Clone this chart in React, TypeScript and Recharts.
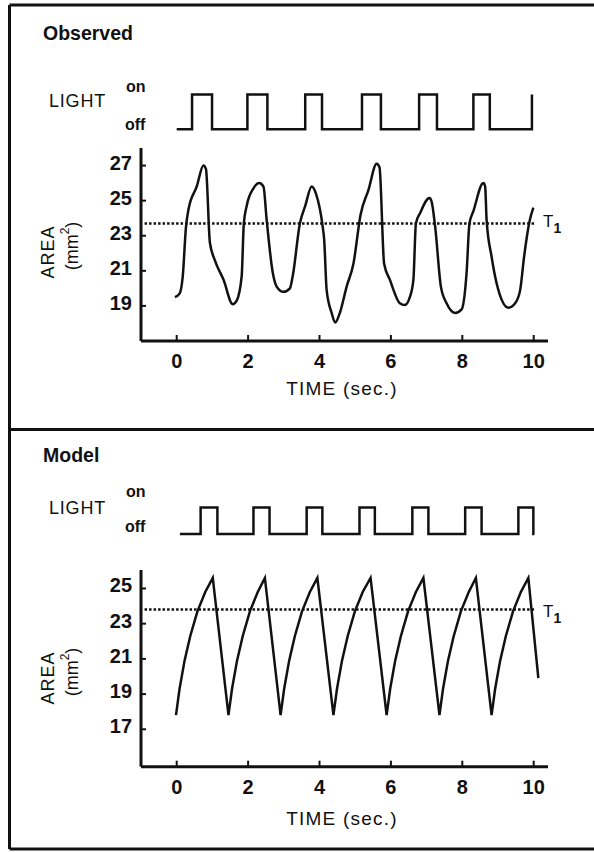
import { LineChart, Line, XAxis, YAxis, ReferenceLine } from "recharts";

const FONT = '"Liberation Sans", Arial, Helvetica, sans-serif';
const INK = "#111";

const TIME_TICKS = [0, 2, 4, 6, 8, 10];
const OBSERVED_TICKS = [19, 21, 23, 25, 27];
const MODEL_TICKS = [17, 19, 21, 23, 25];

const OBSERVED_T1 = 23.7;
const MODEL_T1 = 23.8;

// light switching: time (sec.) and state after the switch, 1 = on
const OBSERVED_LIGHT_TIME = [0, 0.43, 0.99, 1.98, 2.54, 3.6, 4.07, 5.19, 5.72, 6.79, 7.29, 8.31, 8.77, 9.95];
const OBSERVED_LIGHT_STATE = [0, 1, 0, 1, 0, 1, 0, 1, 0, 1, 0, 1, 0, 1];
const MODEL_LIGHT_TIME = [0.09, 0.67, 1.14, 2.15, 2.6, 3.64, 4.08, 5.12, 5.55, 6.6, 7.05, 8.08, 8.54, 9.57, 9.99, 10.02];
const MODEL_LIGHT_STATE = [0, 1, 0, 1, 0, 1, 0, 1, 0, 1, 0, 1, 0, 1, 0, 0];

// observed pupil area (mm2)
const OBSERVED_TIME = [
  -0.05, 0.08, 0.17, 0.26, 0.33, 0.56, 0.75, 0.82, 0.93, 1.07, 1.31, 1.57, 1.68, 1.82, 1.88, 1.96,
  2.15, 2.31, 2.43, 2.52, 2.69, 2.8, 2.99, 3.17, 3.25, 3.45, 3.6, 3.78, 3.9, 4.09, 4.13, 4.2,
  4.34, 4.44, 4.57, 4.76, 4.95, 5.15, 5.37, 5.6, 5.68, 5.81, 5.97, 6.25, 6.39, 6.53, 6.63, 6.7,
  6.82, 7.08, 7.14, 7.24, 7.4, 7.56, 7.8, 7.98, 8.12, 8.2, 8.31, 8.59, 8.64, 8.68, 8.82, 8.96,
  9.29, 9.48, 9.62, 9.73, 9.88, 9.99,
];
const OBSERVED_AREA = [
  19.5, 19.7, 20.7, 23.5, 24.5, 25.8, 27.0, 26.8, 22.6, 21.6, 20.5, 19.1, 19.3, 20.7, 23.7, 24.7,
  25.7, 26.0, 25.8, 23.9, 20.9, 20.1, 19.8, 20.0, 20.7, 23.7, 24.7, 25.8, 25.4, 23.5, 22.8, 19.9,
  18.6, 18.05, 18.6, 20.1, 21.4, 24.2, 25.6, 27.1, 26.9, 21.4, 20.5, 19.15, 19.05, 19.5, 20.5, 23.7,
  24.3, 25.15, 24.95, 23.5, 20.1, 19.15, 18.6, 18.8, 20.9, 23.7, 24.4, 26.0, 25.8, 23.9, 21.8, 20.3,
  18.9, 19.15, 19.9, 21.8, 23.8, 24.6,
];

// model pupil area (mm2)
const MODEL_TIME = [
  -0.02, 0.08, 0.22, 0.38, 0.58, 0.8, 1.01,
  1.45, 1.55, 1.69, 1.85, 2.05, 2.27, 2.47,
  2.91, 3.01, 3.15, 3.31, 3.51, 3.73, 3.94,
  4.39, 4.49, 4.63, 4.79, 4.99, 5.21, 5.43,
  5.88, 5.98, 6.12, 6.28, 6.48, 6.7, 6.91,
  7.36, 7.46, 7.6, 7.76, 7.96, 8.18, 8.38,
  8.82, 8.92, 9.06, 9.22, 9.42, 9.64, 9.85,
  10.13,
];
const MODEL_AREA = [
  17.8, 19.3, 20.9, 22.3, 23.7, 24.8, 25.6,
  17.8, 19.3, 20.9, 22.3, 23.7, 24.8, 25.6,
  17.8, 19.3, 20.9, 22.3, 23.7, 24.8, 25.6,
  17.8, 19.3, 20.9, 22.3, 23.7, 24.8, 25.6,
  17.8, 19.3, 20.9, 22.3, 23.7, 24.8, 25.6,
  17.8, 19.3, 20.9, 22.3, 23.7, 24.8, 25.6,
  17.8, 19.3, 20.9, 22.3, 23.7, 24.8, 25.6,
  19.9,
];

const zip = (t: number[], v: number[]) => t.map((time, i) => ({ t: time, v: v[i] }));

const TIME_DOMAIN: [number, number] = [-1, 10.4];
const PLOT_LEFT = 141;
const PLOT_RIGHT = 46;

function TimeTick(props: any) {
  const { x, y, payload } = props;
  return (
    <g>
      <line x1={x} x2={x} y1={y} y2={y - 6} stroke={INK} strokeWidth={2} />
      <text x={x} y={y + 27} textAnchor="middle" fontSize={20} fontWeight="bold" fill={INK} fontFamily={FONT}>
        {payload.value}
      </text>
    </g>
  );
}

function AreaTick(props: any) {
  const { x, y, payload } = props;
  return (
    <g>
      <line x1={x} x2={x + 5} y1={y} y2={y} stroke={INK} strokeWidth={2} />
      <text x={x - 9} y={y + 4} textAnchor="end" fontSize={20} fontWeight="bold" fill={INK} fontFamily={FONT}>
        {payload.value}
      </text>
    </g>
  );
}

interface LightProps {
  top: number;
  height: number;
  marginTop: number;
  marginBottom: number;
  data: { t: number; v: number }[];
}

function LightTrace({ top, height, marginTop, marginBottom, data }: LightProps) {
  return (
    <div style={{ position: "absolute", left: 0, top }}>
      <LineChart
        width={594}
        height={height}
        data={data}
        margin={{ top: marginTop, right: PLOT_RIGHT, bottom: marginBottom, left: PLOT_LEFT }}
      >
        <XAxis type="number" dataKey="t" domain={TIME_DOMAIN} hide allowDataOverflow />
        <YAxis type="number" domain={[0, 1]} hide />
        <Line type="stepAfter" dataKey="v" stroke={INK} strokeWidth={2.5} dot={false} isAnimationActive={false} />
      </LineChart>
    </div>
  );
}

interface AreaProps {
  top: number;
  marginTop: number;
  plotHeight: number;
  domain: [number, number];
  ticks: number[];
  t1: number;
  curve: "monotone" | "linear";
  data: { t: number; v: number }[];
}

function AreaTrace({ top, marginTop, plotHeight, domain, ticks, t1, curve, data }: AreaProps) {
  return (
    <div style={{ position: "absolute", left: 0, top }}>
      <LineChart
        width={594}
        height={marginTop + plotHeight + 40}
        data={data}
        margin={{ top: marginTop, right: PLOT_RIGHT, bottom: 0, left: PLOT_LEFT - 40 }}
      >
        <XAxis
          type="number"
          dataKey="t"
          domain={TIME_DOMAIN}
          ticks={TIME_TICKS}
          interval={0}
          height={40}
          tickSize={0}
          tickMargin={0}
          tickLine={false}
          tick={<TimeTick />}
          axisLine={{ stroke: INK, strokeWidth: 3 }}
          allowDataOverflow
        />
        <YAxis
          type="number"
          domain={domain}
          ticks={ticks}
          interval={0}
          width={40}
          tickSize={0}
          tickMargin={0}
          tickLine={false}
          tick={<AreaTick />}
          axisLine={{ stroke: INK, strokeWidth: 3 }}
          allowDataOverflow
        />
        <ReferenceLine
          segment={[{ x: -0.9, y: t1 }, { x: 10.05, y: t1 }]}
          stroke={INK}
          strokeWidth={2.5}
          strokeDasharray="2.5 2"
        />
        <Line type={curve} dataKey="v" stroke={INK} strokeWidth={2.5} dot={false} isAnimationActive={false} />
      </LineChart>
    </div>
  );
}

function PanelText({ title, titleY, lightY, onY, offY, areaY, mmY, t1Y, timeY }: any) {
  return (
    <g fontFamily={FONT} fill={INK}>
      <text x={43} y={titleY} fontSize={19.5} fontWeight="bold">{title}</text>
      <text x={49} y={lightY} fontSize={18} letterSpacing={0.8}>LIGHT</text>
      <text x={126} y={onY} fontSize={16} fontWeight="bold">on</text>
      <text x={125} y={offY} fontSize={16} fontWeight="bold">off</text>
      <text
        x={48}
        y={areaY}
        fontSize={18}
        letterSpacing={1}
        textAnchor="middle"
        dominantBaseline="central"
        transform={`rotate(-90 48 ${areaY})`}
      >
        AREA
      </text>
      <text
        x={72}
        y={mmY}
        fontSize={18}
        textAnchor="middle"
        dominantBaseline="central"
        transform={`rotate(-90 72 ${mmY})`}
      >
        (mm<tspan fontSize={12} dy={-7}>2</tspan><tspan dy={7}>)</tspan>
      </text>
      <text x={543} y={t1Y} fontSize={17}>
        T<tspan fontSize={14} fontWeight="bold" dy={6}>1</tspan>
      </text>
      <text x={342} y={timeY} fontSize={19} letterSpacing={1.2} textAnchor="middle">TIME (sec.)</text>
    </g>
  );
}

export default function App() {
  return (
    <div style={{ position: "absolute", left: 0, top: 0, width: 594, height: 853, background: "#fff", overflow: "hidden" }}>
      <LightTrace top={80} height={60} marginTop={14.5} marginBottom={10.7} data={zip(OBSERVED_LIGHT_TIME, OBSERVED_LIGHT_STATE)} />
      <AreaTrace
        top={140}
        marginTop={8}
        plotHeight={193}
        domain={[17, 28]}
        ticks={OBSERVED_TICKS}
        t1={OBSERVED_T1}
        curve="monotone"
        data={zip(OBSERVED_TIME, OBSERVED_AREA)}
      />
      <LightTrace top={490} height={60} marginTop={17.5} marginBottom={16} data={zip(MODEL_LIGHT_TIME, MODEL_LIGHT_STATE)} />
      <AreaTrace
        top={560}
        marginTop={10}
        plotHeight={196.7}
        domain={[14.875, 26.05]}
        ticks={MODEL_TICKS}
        t1={MODEL_T1}
        curve="linear"
        data={zip(MODEL_TIME, MODEL_AREA)}
      />
      <svg width={594} height={853} style={{ position: "absolute", left: 0, top: 0, pointerEvents: "none" }}>
        <g stroke={INK} strokeWidth={3} fill="none">
          <line x1={9.5} y1={5} x2={594} y2={5} />
          <line x1={9.5} y1={5} x2={9.5} y2={849} />
          <line x1={9.5} y1={429.5} x2={594} y2={429.5} />
          <line x1={9.5} y1={849} x2={594} y2={849} />
        </g>
        <PanelText title="Observed" titleY={40} lightY={106.5} onY={91.5} offY={130} areaY={252} mmY={246} t1Y={227} timeY={394.5} />
        <PanelText title="Model" titleY={462} lightY={513.5} onY={497} offY={532} areaY={678} mmY={672} t1Y={617} timeY={824.5} />
      </svg>
    </div>
  );
}
